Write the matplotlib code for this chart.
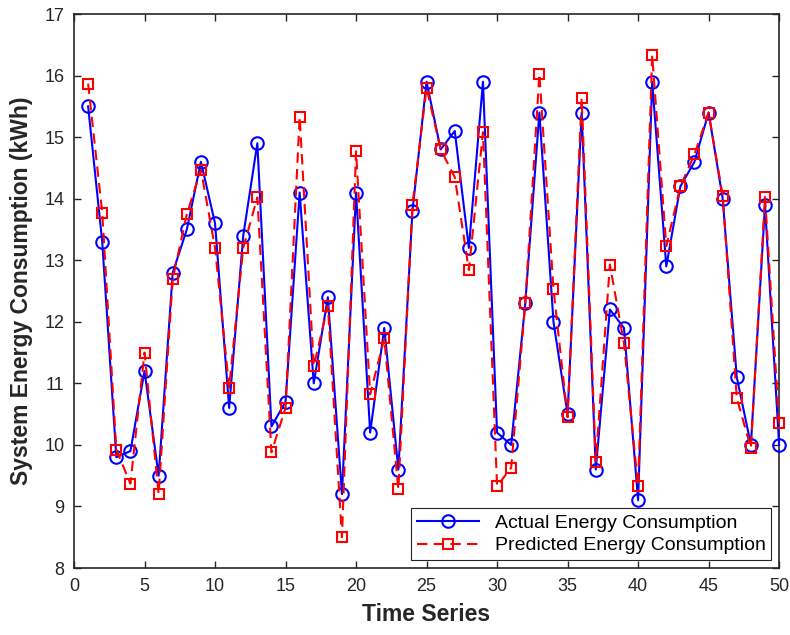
import matplotlib
matplotlib.use("Agg")
import matplotlib.pyplot as plt
import numpy as np

plt.rcParams['font.family'] = ['Liberation Sans', 'DejaVu Sans']

time_idx = np.arange(1, 51)
actual = [15.5, 13.3, 9.8, 9.9, 11.2, 9.5, 12.8, 13.5, 14.6, 13.6,
          10.6, 13.4, 14.9, 10.3, 10.7, 14.1, 11.0, 12.4, 9.2, 14.1,
          10.2, 11.9, 9.6, 13.8, 15.9, 14.8, 15.1, 13.2, 15.9, 10.2,
          10.0, 12.3, 15.4, 12.0, 10.5, 15.4, 9.6, 12.2, 11.9, 9.1,
          15.9, 12.9, 14.2, 14.6, 15.4, 14.0, 11.1, 10.0, 13.9, 10.0]
predicted = [15.87, 13.77, 9.92, 9.37, 11.5, 9.2, 12.7, 13.75, 14.47, 13.2,
             10.93, 13.2, 14.02, 9.88, 10.6, 15.33, 11.28, 12.26, 8.5, 14.77,
             10.82, 11.73, 9.28, 13.9, 15.8, 14.8, 14.35, 12.84, 15.08, 9.33,
             9.63, 12.3, 16.03, 12.53, 10.45, 15.64, 9.73, 12.93, 11.65, 9.33,
             16.33, 13.23, 14.2, 14.72, 15.4, 14.05, 10.76, 9.95, 14.03, 10.35]

fig = plt.figure(figsize=(7.9, 6.35), dpi=100)
ax = fig.add_axes([0.0937, 0.1055, 0.8925, 0.8724])

ax.plot(time_idx, actual, '-o', color='#0000ff', lw=1.5, ms=9,
        mfc='none', mew=1.5, clip_on=False, zorder=3,
        label='Actual Energy Consumption')
ax.plot(time_idx, predicted, '--s', color='#ff0000', lw=1.5, ms=7.5,
        mfc='none', mew=1.5, dashes=(5, 3), clip_on=False, zorder=3,
        label='Predicted Energy Consumption')

ax.set_xlim(0, 50)
ax.set_ylim(8, 17)
ax.set_xticks(np.arange(0, 51, 5))
ax.set_yticks(np.arange(8, 18, 1))
ax.tick_params(direction='in', top=True, right=True, labelsize=13,
               width=1, length=5, colors='#262626', pad=7)
for sp in ax.spines.values():
    sp.set_linewidth(1.2)
    sp.set_color('#262626')

ax.set_xlabel('Time Series', fontsize=16.5, fontweight='bold',
              color='#262626', labelpad=6)
ax.set_ylabel('System Energy Consumption (kWh)', fontsize=16.5,
              fontweight='bold', color='#262626', labelpad=8)

leg = ax.legend(loc='lower right', fontsize=14, fancybox=False,
                framealpha=1, edgecolor='#262626', handlelength=3.2,
                borderaxespad=0.4, borderpad=0.3, labelspacing=0.25)
leg.get_frame().set_linewidth(0.8)
leg.set_zorder(5)

fig.savefig('out.png', dpi=100)
